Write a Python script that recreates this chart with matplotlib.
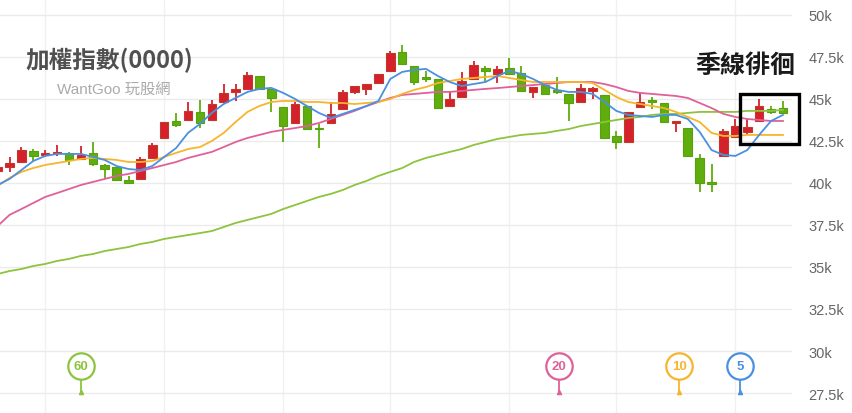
import matplotlib
matplotlib.use("Agg")
import matplotlib.pyplot as plt
from matplotlib.patches import Rectangle

plt.rcParams['font.family'] = ['Liberation Sans', 'Noto Sans CJK TC', 'DejaVu Sans']

# daily candles (TAIEX), red = up, green = down
opens = [40720, 40950, 41250, 41900, 41670, 41760, 41790, 41430, 41790, 41070,
         40950, 40180, 40240, 41490, 42680, 43690, 43750, 44230, 43750, 44820,
         45420, 45600, 46370, 45600, 44520, 43570, 44580, 43270, 43570, 44400,
         45420, 45600, 45950, 46670, 47800, 46960, 46310, 46190, 44580, 45120,
         46190, 46850, 46490, 46850, 46550, 45420, 45830, 45480, 45300, 44820,
         45480, 45240, 42800, 42440, 44520, 44940, 44760, 43570, 43270, 41490,
         40060, 41610, 42740, 43040, 43690, 44400, 44460]
highs = [41130, 41550, 42140, 42020, 41960, 42260, 41840, 42200, 42440, 41100,
         40950, 40420, 41550, 42380, 43650, 44170, 44820, 44940, 44940, 45890,
         45890, 46610, 46370, 45600, 44520, 44820, 44580, 43510, 44820, 45540,
         45770, 45890, 46490, 47860, 48210, 46960, 46670, 46190, 45480, 46610,
         47260, 46960, 46960, 47440, 46960, 45710, 45830, 46310, 45300, 45890,
         45700, 45240, 43100, 44230, 45360, 45120, 44760, 43630, 43270, 41730,
         41130, 43210, 43810, 43810, 45000, 44580, 44880]
lows = [40540, 40650, 41200, 41310, 41550, 41610, 41070, 41400, 41010, 40240,
        40180, 40000, 40240, 41490, 42680, 43330, 43750, 43270, 43750, 44820,
        44880, 45600, 45600, 44230, 42440, 43570, 43210, 42080, 43570, 44400,
        45300, 45240, 45950, 46670, 47080, 45830, 46010, 44460, 44580, 45120,
        46190, 46010, 45950, 46490, 45480, 45060, 45300, 45300, 43690, 44820,
        45000, 42680, 42020, 42440, 44520, 44400, 43630, 43040, 41610, 39460,
        39460, 41610, 42740, 42920, 43690, 44110, 44170]
closes = [40950, 41190, 41960, 41610, 41790, 41840, 41370, 41670, 41130, 40830,
          40180, 40000, 41430, 42260, 43630, 43450, 44290, 43570, 44700, 45360,
          45600, 46430, 45600, 45060, 43390, 44700, 43210, 43210, 44110, 45420,
          45770, 45890, 46490, 47740, 47080, 46010, 46190, 44460, 45000, 46070,
          47020, 46670, 46790, 46490, 45480, 45710, 45300, 45420, 44760, 45650,
          45650, 42680, 42440, 44230, 44820, 44820, 43630, 43630, 41610, 40000,
          39940, 43100, 43390, 43330, 44580, 44230, 44170]

# moving averages
ma5 = [39880, 40240, 40770, 41310, 41610, 41730, 41730, 41730, 41550, 41370,
       41010, 40830, 40770, 41010, 41550, 42080, 42980, 43510, 44170, 44700,
       45060, 45420, 45600, 45660, 45360, 45000, 44580, 44170, 43870, 44110,
       44350, 44580, 44880, 46190, 46610, 46730, 46790, 46370, 46010, 45770,
       45890, 46010, 46370, 46670, 46490, 46190, 45830, 45540, 45420, 45420,
       45300, 44820, 44290, 44050, 43990, 43930, 44050, 44050, 43810, 43040,
       41960, 41670, 41610, 41960, 42860, 43690, 44050]
ma10 = [39820, 40300, 40660, 40890, 41070, 41190, 41310, 41430, 41490, 41430,
        41370, 41250, 41250, 41310, 41550, 41790, 42020, 42140, 42500, 42980,
        43630, 44230, 44580, 44820, 44880, 44880, 44820, 44820, 44760, 44760,
        44700, 44760, 44820, 45000, 45300, 45540, 45710, 45950, 46070, 46190,
        46250, 46310, 46370, 46250, 46130, 46010, 46010, 46010, 46010, 46010,
        45950, 45540, 45120, 44820, 44700, 44580, 44460, 44230, 43930, 43630,
        42980, 42800, 42800, 42860, 42860, 42860, 42860]
ma20 = [37440, 38100, 38450, 38810, 39170, 39400, 39640, 39880, 40060, 40240,
        40420, 40540, 40710, 40890, 41070, 41250, 41490, 41670, 41850, 42140,
        42440, 42680, 42860, 43040, 43160, 43270, 43390, 43570, 43810, 44050,
        44290, 44580, 44820, 45060, 45240, 45300, 45360, 45420, 45420, 45480,
        45540, 45600, 45650, 45710, 45770, 45830, 45890, 45950, 46010, 46010,
        46010, 45890, 45710, 45480, 45360, 45300, 45240, 45180, 45060, 44760,
        44460, 44110, 43930, 43810, 43750, 43690, 43690]
ma60 = [34580, 34760, 34880, 35060, 35180, 35360, 35480, 35660, 35770, 35950,
        36070, 36190, 36370, 36490, 36670, 36790, 36900, 37020, 37140, 37380,
        37620, 37800, 37980, 38160, 38450, 38690, 38930, 39170, 39350, 39580,
        39880, 40120, 40420, 40660, 40890, 41250, 41490, 41670, 41850, 42020,
        42260, 42440, 42620, 42740, 42860, 42920, 42980, 43100, 43210, 43390,
        43510, 43630, 43750, 43870, 43930, 44050, 44110, 44110, 44170, 44230,
        44230, 44230, 44230, 44290, 44290, 44290, 44350]

ma_names = ['60', '20', '10', '5']
ma_label_x = [7.0, 47.2, 57.3, 62.4]
month_starts = [4, 14, 24, 33, 43, 52, 62]
yticks = [27500, 30000, 32500, 35000, 37500, 40000, 42500, 45000, 47500, 50000]

RED, RED_EDGE = '#d5212b', '#c0392b'
GREEN, GREEN_EDGE = '#5fae0e', '#56a10c'
ma_colors = {'5': '#4a90e2', '10': '#f7b52c', '20': '#e0609a', '60': '#8dc33d'}

fig = plt.figure(figsize=(8.52, 4.14), dpi=100)
ax = fig.add_axes([0, 0, 792 / 852, 1])

xs = list(range(len(opens)))
for i in xs:
    o, h, l, c = opens[i], highs[i], lows[i], closes[i]
    up = c >= o
    col = RED if up else GREEN
    ecol = RED_EDGE if up else GREEN_EDGE
    ax.vlines(i, l, h, color=col, lw=1.3, zorder=2)
    bot = min(o, c)
    hgt = max(abs(c - o), 90)
    ax.bar(i, hgt, bottom=bot, width=0.72, color=col, edgecolor=ecol,
           linewidth=0.8, zorder=3)

ax.plot(xs, ma60, color=ma_colors['60'], lw=1.3, zorder=4)
ax.plot(xs, ma20, color=ma_colors['20'], lw=1.3, zorder=4)
ax.plot(xs, ma10, color=ma_colors['10'], lw=1.3, zorder=4)
ax.plot(xs, ma5, color=ma_colors['5'], lw=1.3, zorder=4)

# MA period badges at the bottom
for name, xp in zip(ma_names, ma_label_x):
    col = ma_colors[name]
    ax.plot([xp, xp], [27500, 28600], color=col, lw=1.3, zorder=5, clip_on=False)
    ax.plot(xp, 27560, marker='^', ms=3, color=col, zorder=5, clip_on=False)
    ax.plot(xp, 29100, marker='o', ms=19, mfc='white', mec=col, mew=1.6, zorder=6)
    ax.text(xp, 29100, name, color=col, fontsize=9.5, fontweight='bold',
            ha='center', va='center', zorder=7)

ax.set_xlim(0.2, 66.76)
ax.set_ylim(26310, 50950)
ax.set_xticks(month_starts)
ax.set_yticks(yticks)
ax.set_yticklabels([f"{v / 1000:g}k" for v in yticks])
ax.yaxis.tick_right()
ax.tick_params(axis='y', length=0, pad=12, labelsize=10.5, labelcolor='#666666')
ax.tick_params(axis='x', length=0, labelbottom=False)
ax.grid(True, axis='y', color='#ebebeb', lw=1, zorder=0)
ax.grid(True, axis='x', color='#f0f0f0', lw=1, zorder=0)
for s in ax.spines.values():
    s.set_visible(False)

# highlight box around the last candles
ax.add_patch(Rectangle((62.4, 42320), 4.95, 2980, fill=False, ec='black',
                       lw=2.4, zorder=8, clip_on=False))

fig.text(25 / 852, 1 - 60 / 414, '加權指數(0000)', fontsize=17, fontweight='bold',
         color='#505050', va='center', ha='left',
         family=['Noto Sans CJK TC', 'DejaVu Sans'])
fig.text(57 / 852, 1 - 90 / 414, 'WantGoo 玩股網', fontsize=11, color='#aaaaaa',
         va='center', ha='left', family=['Liberation Sans', 'Noto Sans CJK TC'])
fig.text(695 / 852, 1 - 66 / 414, '季線徘徊', fontsize=18, color='#1a1a1a',
         va='center', ha='left', family=['Noto Sans CJK TC'], fontweight='bold')

fig.savefig('out.png', dpi=100)
